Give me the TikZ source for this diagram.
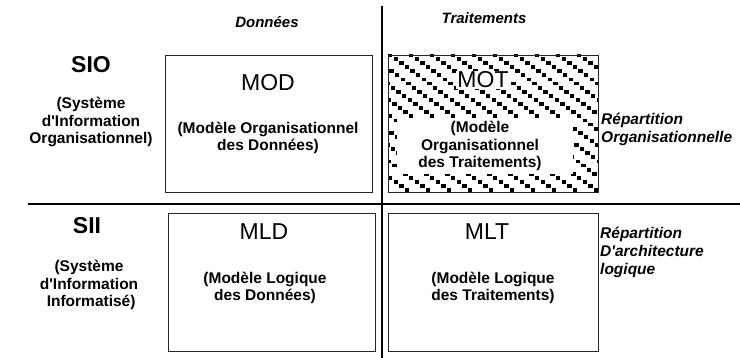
\documentclass[tikz,border=0pt]{standalone}
\usepackage{fontspec}
\setmainfont{Liberation Sans}
\newcommand{\apos}{\textquotesingle}
\begin{document}
\begin{tikzpicture}[x=1pt,y=-1pt,
  box/.style={draw=black!85,line width=1pt},
  sep/.style={draw=black,line width=1.6pt},
  title/.style={font=\fontsize{15}{18}\selectfont\bfseries\itshape},
  sys/.style={font=\fontsize{23}{26}\selectfont\bfseries},
  model/.style={font=\fontsize{23}{27}\selectfont},
  sub/.style={font=\fontsize{15.5}{17.8}\selectfont\bfseries,align=center,inner sep=0pt},
  side/.style={font=\fontsize{15.5}{18}\selectfont\bfseries\itshape,align=left,inner sep=0pt,anchor=north west}
]
\useasboundingbox (0,0) rectangle (740,358);
\fill[white] (0,0) rectangle (740,358);

% separators
\coordinate (vtop) at (382,6);
\coordinate (vbot) at (382,358);
\coordinate (hl) at (28,204);
\coordinate (hr) at (740,204);
\draw[sep] (vtop) -- (vbot);
\draw[sep] (hl) -- (hr);

% column titles
\node[title] (donnees) at (267,22) {Données};
\node[title] (traitements) at (484,18) {Traitements};

% MOT hatched box (staircase of square dots)
\begin{scope}
  \clip (388,55) rectangle (598,192);
  \foreach \i in {-17,...,10} {
    \foreach \k in {0,...,36} {
      \fill (388+21*\i+5.6*\k,53+4.1*\k) rectangle ++(4.4,3.8);
    }
  }
\end{scope}
\fill[white] (397,118) rectangle (573,174);

% boxes
\node[box,minimum width=207pt,minimum height=137pt,anchor=north west] (mod) at (165,55) {};
\node[box,minimum width=210pt,minimum height=137pt,anchor=north west] (mot) at (388,55) {};
\node[box,minimum width=207pt,minimum height=138pt,anchor=north west] (mld) at (168,213) {};
\node[box,minimum width=210pt,minimum height=138pt,anchor=north west] (mlt) at (388,213) {};

% left labels
\node[sys] (sio) at (91,65) {SIO};
\node[sub] (siosub) at (91,122) {(Système\\d\apos Information\\Organisationnel)};
\node[sys] (sii) at (87,226) {SII};
\node[sub] (siisub) at (89,285) {(Système\\d\apos Information\\\ Informatisé)};

% model labels
\node[model] (modt) at (268,83) {MOD};
\node[sub] (mods) at (268,138) {(Modèle Organisationnel\\des Données)};
\node[model,fill=white,inner sep=1pt] (mott) at (483,80) {MOT};
\node[sub] (mots) at (480,146) {(Modèle\\Organisationnel\\des Traitements)};
\node[model] (mldt) at (264,232) {MLD};
\node[sub] (mlds) at (265,288) {(Modèle Logique\\ des Données)};
\node[model] (mltt) at (487,232) {MLT};
\node[sub] (mlts) at (493,288) {(Modèle Logique\\ des Traitements)};

% right labels
\node[side] (rep1) at (601,113) {Répartition\\Organisationnelle};
\node[side] (rep2) at (600,227) {Répartition\\D\apos architecture\\logique};
\end{tikzpicture}
\end{document}
